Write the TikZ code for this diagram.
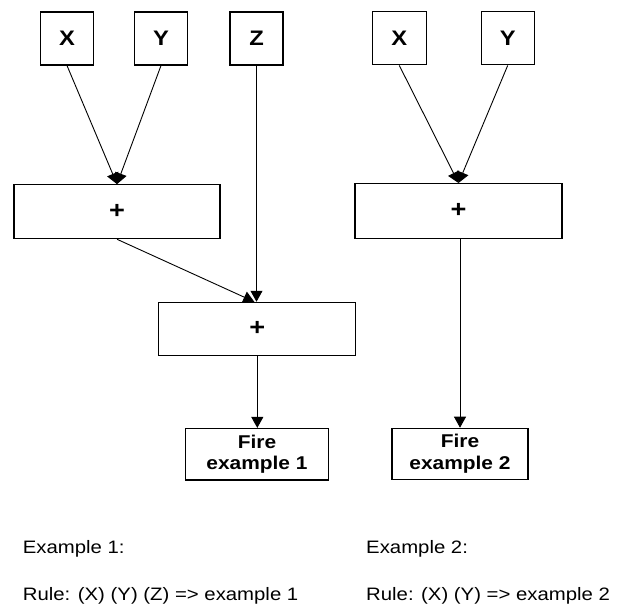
\documentclass[tikz,border=0pt]{standalone}
\usepackage{fontspec}
\setmainfont{Liberation Sans}[FakeStretch=1.13]
\usetikzlibrary{arrows.meta}

\tikzset{
  box/.style={draw, line width=1.1pt, inner sep=0pt, align=center,
              font=\fontsize{21}{24}\selectfont\bfseries},
  letterbox/.style={box, minimum width=53pt, minimum height=53pt},
  plusbox/.style={box, minimum height=54pt,
              font=\fontsize{24}{24}\selectfont\bfseries},
  firebox/.style={box, minimum height=51.5pt,
              font=\fontsize{18.5}{21.6}\selectfont\bfseries},
  link/.style={line width=0.9pt, -{Triangle[length=11pt,width=12pt]}},
  note/.style={anchor=base west, inner sep=0pt,
              font=\fontsize{18}{21.6}\selectfont}
}

\begin{document}
\begin{tikzpicture}[x=1pt, y=-1pt]
  \useasboundingbox (0,0) rectangle (620,608);

  % example 1: three inputs joined in two steps
  \node[letterbox] (x1) at (67,38.5)    {X};
  \node[letterbox] (y1) at (161,38.5)   {Y};
  \node[letterbox] (z1) at (256.5,38.5) {Z};
  \node[plusbox, minimum width=206pt] (p1) at (117,211.7) {+};
  \node[plusbox, minimum width=197pt, minimum height=53pt] (p2) at (257.3,328.8) {+};
  \node[firebox, minimum width=142.5pt] (f1) at (257,454.2) {Fire\\example 1};

  \draw[link] (x1.south) -- (p1.north);
  \draw[link] (y1.south) -- (p1.north);
  \draw[link] (p1.south) -- ([xshift=-3pt]p2.north);
  \draw[link] (z1.south) -- (z1.south |- p2.north);
  \draw[link] (p2.south) -- (p2.south |- f1.north);

  % example 2: two inputs joined once
  \node[letterbox, minimum width=54.5pt] (x2) at (399.3,38.4) {X};
  \node[letterbox] (y2) at (507.7,38.4) {Y};
  \node[plusbox, minimum width=207pt, minimum height=54.5pt] (p3) at (458.5,210.8) {+};
  \node[firebox, minimum width=136pt] (f2) at (460,454) {Fire\\example 2};

  \draw[link] (x2.south) -- (p3.north);
  \draw[link] (y2.south) -- (p3.north);
  \draw[link] ([xshift=1.5pt]p3.south) -- ([xshift=1.5pt]p3.south |- f2.north);

  % captions
  \node[note] (e1) at (22.7,553) {Example 1:};
  \node[note] (r1) at (22.7,600) {Rule: (X) (Y) (Z) => example 1};
  \node[note] (e2) at (366,553)  {Example 2:};
  \node[note] (r2) at (366,600)  {Rule: (X) (Y) => example 2};
\end{tikzpicture}
\end{document}
